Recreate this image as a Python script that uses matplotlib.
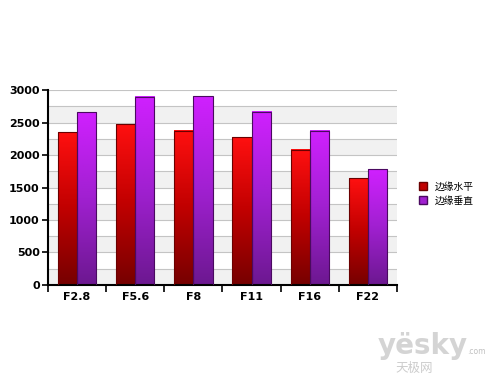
import numpy as np
import matplotlib
matplotlib.use("Agg")
import matplotlib.pyplot as plt
from matplotlib.colors import LinearSegmentedColormap
from matplotlib.patches import Rectangle

plt.rcParams['font.family'] = ['Noto Sans CJK SC', 'DejaVu Sans']

categories = ["F2.8", "F5.6", "F8", "F11", "F16", "F22"]
horizontal = [2350, 2475, 2370, 2270, 2080, 1640]
vertical = [2660, 2895, 2905, 2665, 2372, 1780]
series_names = ["边缘水平", "边缘垂直"]
y_ticks = [0, 500, 1000, 1500, 2000, 2500, 3000]

fig = plt.figure(figsize=(5.0, 3.87), dpi=100)
ax = fig.add_axes([0.096, 0.2636, 0.698, 0.5038])

ymax = 3000
n = len(categories)

# background bands and gridlines
for k in range(0, 12):
    lo = k * 250
    if k % 2 == 0:
        ax.axhspan(lo, lo + 250, color='#f1f1f1', zorder=0, lw=0)
for k in range(1, 13):
    ax.axhline(k * 250, color='#c4c4c4', lw=0.8, zorder=0.5)

cmap_red = LinearSegmentedColormap.from_list('r', ['#760000', '#c00000', '#ff1010'])
cmap_pur = LinearSegmentedColormap.from_list('p', ['#6c1890', '#a020d0', '#d020ff'])
grad = np.linspace(0, 1, 256).reshape(-1, 1)

bw = 0.33
for i in range(n):
    c = i + 0.5
    for val, cmap, edge, hl, x0 in [(horizontal[i], cmap_red, '#6a0000', '#ff9090', c - bw),
                                     (vertical[i], cmap_pur, '#4a0a60', '#e890ff', c)]:
        ax.imshow(grad, cmap=cmap, origin='lower', aspect='auto',
                  extent=[x0, x0 + bw, 0, val], zorder=2, interpolation='bilinear')
        ax.add_patch(Rectangle((x0, 0), bw, val, fill=False, edgecolor=edge, lw=0.8, zorder=3))
ax.set_xlim(0, n)
ax.set_ylim(0, ymax)

ax.set_yticks(y_ticks)
ax.set_yticklabels([str(v) for v in y_ticks], fontsize=8, fontweight='bold', family='DejaVu Sans')
ax.set_xticks(np.arange(0, n + 1), minor=False)
ax.set_xticklabels([''] * (n + 1))
ax.set_xticks(np.arange(n) + 0.5, minor=True)
ax.set_xticklabels(categories, minor=True, fontsize=8, fontweight='bold', family='DejaVu Sans')
ax.tick_params(axis='x', which='major', length=5, width=1.2, direction='out', color='black')
ax.tick_params(axis='x', which='minor', length=0, pad=5)
ax.tick_params(axis='y', which='major', length=4, width=1.2, direction='out', pad=2)

for s in ['top', 'right']:
    ax.spines[s].set_visible(False)
ax.spines['left'].set_linewidth(1.5)
ax.spines['bottom'].set_linewidth(1.5)

# legend
handles = [Rectangle((0, 0), 1, 1, facecolor='#c00000', edgecolor='#6a0000'),
           Rectangle((0, 0), 1, 1, facecolor='#a020d0', edgecolor='#4a0a60')]
fig.legend(handles, series_names, loc='center left', bbox_to_anchor=(0.82, 0.50),
           frameon=False, fontsize=7, handlelength=0.8, handleheight=0.8,
           handletextpad=0.8, labelspacing=0.4)

# watermark
fig.text(0.755, 0.085, "yësky", fontsize=20, fontweight='bold', color='#d4d4d4',
         family='DejaVu Sans')
fig.text(0.935, 0.085, ".com", fontsize=5.5, color='#c0c0c0', family='DejaVu Sans')
fig.text(0.79, 0.04, "天极网", fontsize=9, color='#cccccc')

fig.savefig("out.png", dpi=100)
